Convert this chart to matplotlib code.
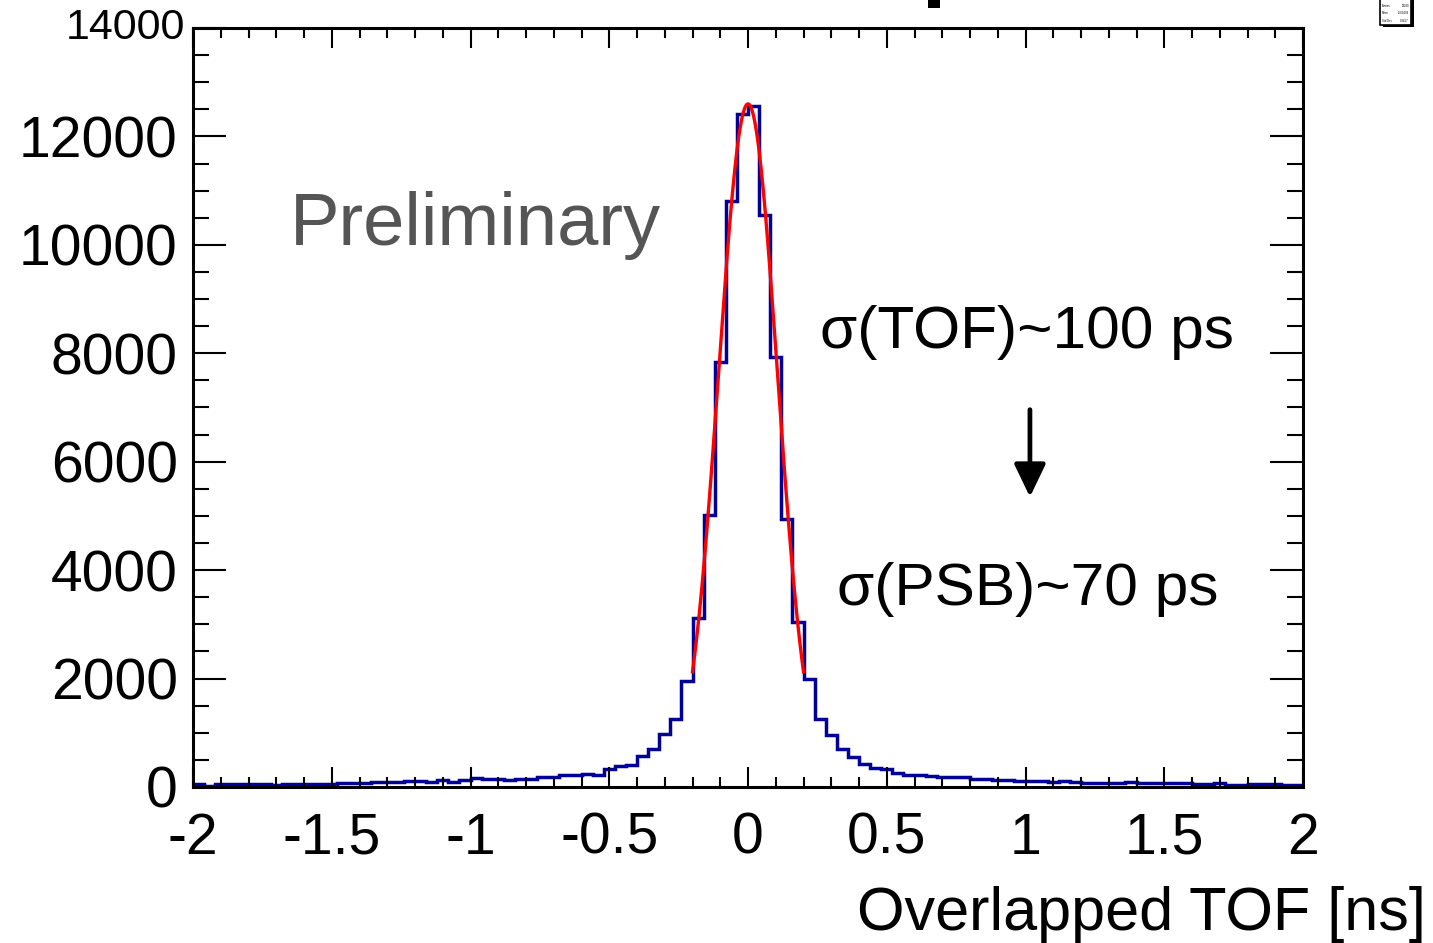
import numpy as np
import matplotlib
matplotlib.use("Agg")
import matplotlib.pyplot as plt
from matplotlib.patches import Rectangle
from matplotlib.ticker import MultipleLocator

plt.rcParams['font.family'] = ['Liberation Sans', 'DejaVu Sans']
plt.rcParams['axes.unicode_minus'] = False

# Histogram of overlapped TOF: 100 bins from -2 to 2 ns
bin_lo, bin_hi, n_bins = -2.0, 2.0, 100
counts = [
    50, 25, 50, 50, 50, 60, 60, 45, 50, 55,
    55, 55, 60, 80, 80, 75, 92, 98, 98, 110,
    110, 98, 123, 92, 135, 160, 141, 148, 123, 141,
    141, 185, 185, 215, 215, 246, 228, 326, 381, 400,
    570, 700, 975, 1260, 1960, 3120, 5015, 7840, 10815, 12410,
    12560, 10550, 7935, 4935, 3040, 2000, 1255, 955, 705, 555,
    430, 357, 326, 264, 221, 228, 209, 178, 190, 178,
    154, 154, 123, 135, 117, 105, 110, 92, 105, 92,
    80, 68, 80, 68, 86, 74, 74, 74, 80, 68,
    60, 60, 68, 43, 43, 50, 55, 55, 37, 43,
]

# Gaussian fit parameters and fit range
fit_const, fit_mean, fit_sigma = 12600.0, 0.0, 0.106
fit_range = (-0.2, 0.2)

x_ticks = [-2, -1.5, -1, -0.5, 0, 0.5, 1, 1.5, 2]
x_tick_labels = ["-2", "-1.5", "-1", "-0.5", "0", "0.5", "1", "1.5", "2"]
y_ticks = [0, 2000, 4000, 6000, 8000, 10000, 12000, 14000]
y_tick_labels = ["0", "2000", "4000", "6000", "8000", "10000", "12000", ""]
x_title = "Overlapped TOF [ns]"

W, H = 1433, 943
fig = plt.figure(figsize=(W / 100, H / 100), dpi=100)
ax = fig.add_axes([193 / W, 1 - 787 / H, (1303 - 193) / W, (787 - 28) / H])

edges = np.linspace(bin_lo, bin_hi, n_bins + 1)
ax.stairs(counts, edges, color='#000099', linewidth=2.5)

xf = np.linspace(fit_range[0], fit_range[1], 300)
yf = fit_const * np.exp(-0.5 * ((xf - fit_mean) / fit_sigma) ** 2)
ax.plot(xf, yf, color='#ff0000', linewidth=2.4)

ax.set_xlim(bin_lo, bin_hi)
ax.set_ylim(0, 14000)

ax.set_xticks(x_ticks)
ax.set_xticklabels(x_tick_labels)
ax.set_yticks(y_ticks)
ax.set_yticklabels(y_tick_labels)
ax.xaxis.set_minor_locator(MultipleLocator(0.1))
ax.yaxis.set_minor_locator(MultipleLocator(500))

ax.tick_params(axis='both', which='both', direction='in',
               top=True, right=True, width=1.5, color='black')
ax.tick_params(axis='x', which='major', length=14.5, labelsize=41, pad=18)
ax.tick_params(axis='x', which='minor', length=7.2)
ax.tick_params(axis='y', which='major', length=24, labelsize=41, pad=11)
ax.tick_params(axis='y', which='minor', length=11.5)
for s in ax.spines.values():
    s.set_linewidth(2.2)
    s.set_color('black')

ax.text(-0.007, 14000, "14000", transform=ax.get_yaxis_transform(),
        ha='right', va='center', fontsize=31)

fig.text(1426 / W, 1 - 930 / H, x_title, ha='right', va='baseline',
         fontsize=44)

ax.text(-1.65, 10000, "Preliminary", ha='left', va='baseline',
        fontsize=53.5, color='#555555')
ax.text(0.26, 8100, "σ(TOF)~100 ps", ha='left', va='baseline', fontsize=43.5)
ax.text(0.32, 3360, "σ(PSB)~70 ps", ha='left', va='baseline', fontsize=43.5)

ax.annotate("", xy=(1.016, 5350), xytext=(1.016, 6960),
            arrowprops=dict(arrowstyle='-|>,head_length=1.0,head_width=0.48',
                            mutation_scale=20, color='black', lw=3.4,
                            shrinkA=0, shrinkB=0))

# Fragment of the title glyph at the top edge
fig.patches.append(Rectangle((928 / W, 1 - 8 / H), 12 / W, 8 / H,
                             transform=fig.transFigure, facecolor='black',
                             edgecolor='none'))

# Statistics box in the top-right corner
c = np.asarray(counts, dtype=float)
centers = 0.5 * (edges[:-1] + edges[1:])
entries = c.sum()
mean = (c * centers).sum() / entries
std = np.sqrt((c * (centers - mean) ** 2).sum() / entries)
fig.patches.append(Rectangle((1383 / W, 1 - 27 / H), 31 / W, 30 / H,
                             transform=fig.transFigure, facecolor='black',
                             edgecolor='none'))
fig.patches.append(Rectangle((1380 / W, 1 - 25 / H), 31 / W, 28 / H,
                             transform=fig.transFigure, facecolor='white',
                             edgecolor='black', linewidth=1.2))
rows = [("Entries", f"{entries:.0f}"), ("Mean", f"{mean:.5f}"),
        ("Std Dev", f"{std:.4f}")]
for i, (k, v) in enumerate(rows):
    yy = 1 - (6 + 7.5 * i) / H
    fig.text(1382 / W, yy, k, fontsize=2, ha='left', va='center')
    fig.text(1409 / W, yy, v, fontsize=2, ha='right', va='center')

fig.savefig("out.png", dpi=100)
